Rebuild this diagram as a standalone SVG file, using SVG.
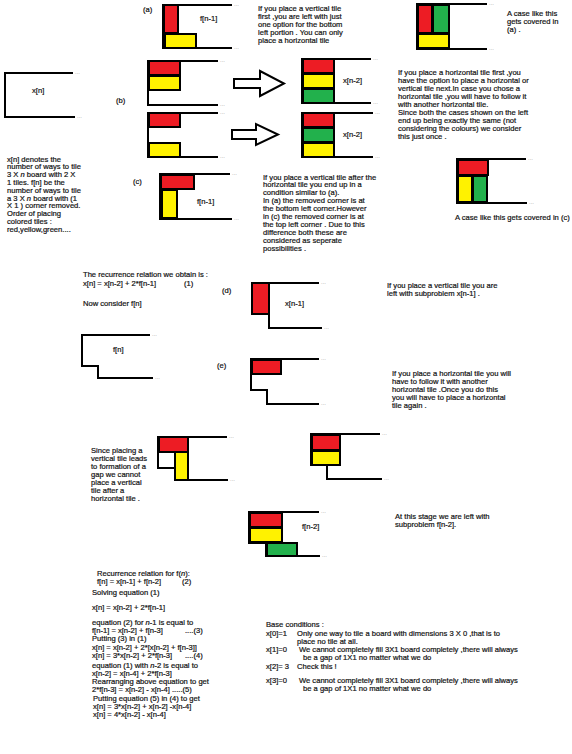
<svg xmlns="http://www.w3.org/2000/svg" width="572" height="754" viewBox="0 0 572 754">
<style>
.t{font-family:"Liberation Sans",Arial,sans-serif;font-size:7.6px;fill:#111;stroke:#111;stroke-width:0.2}
.i{font-style:italic}
.dt{font-family:"Liberation Sans",Arial,sans-serif;font-size:6px;fill:#9a9a9a}
.b{fill:none;stroke:#000;stroke-width:2}
.r{fill:#ed1c24;stroke:#000;stroke-width:2}
.y{fill:#fff200;stroke:#000;stroke-width:2}
.g{fill:#22b14c;stroke:#000;stroke-width:2}
.ar{fill:#fff;stroke:#000;stroke-width:2;stroke-linejoin:miter}
</style>
<rect width="572" height="754" fill="#fff"/>

<!-- x[n] board -->
<g id="board-xn">
<path class="b" d="M73,73 H5 V117 H75"/>
<text class="dt" x="75" y="74">...</text><text class="dt" x="77" y="118">...</text>
<text class="t" x="32" y="92.5">x[n]</text>
</g>

<!-- (a) -->
<g id="fig-a">
<text class="t" x="143" y="12">(a)</text>
<path class="b" d="M232,5 H163 V48 H232"/>
<rect class="r" x="164" y="5" width="14" height="28"/>
<rect class="y" x="165" y="34" width="31" height="14"/>
<text class="dt" x="234" y="6">...</text><text class="dt" x="234" y="49">...</text>
<text class="t" x="200" y="21">f[n-1]</text>
</g>
<g id="text-a">
<text class="t" x="258" y="10.5">If you place a vertical tile</text>
<text class="t" x="258" y="18.7">first ,you are left with just</text>
<text class="t" x="258" y="26.9">one option for the bottom</text>
<text class="t" x="258" y="35.1">left portion . You can only</text>
<text class="t" x="258" y="43.3">place a horizontal tile</text>
</g>

<!-- top right case -->
<g id="fig-case-a">
<path class="b" d="M487,4 H417 V49 H487"/>
<rect class="r" x="418" y="5" width="14" height="28"/>
<rect class="g" x="433" y="5" width="16" height="28"/>
<rect class="y" x="418" y="34" width="31" height="14"/>
<text class="dt" x="489" y="5">...</text><text class="dt" x="489" y="50">...</text>
<text class="t" x="507" y="15.5">A case like this</text>
<text class="t" x="507" y="23.5">gets covered in</text>
<text class="t" x="507" y="31.5">(a) .</text>
</g>

<g id="text-b">
<text class="t" x="398" y="74.5">If you place a horizontal tile first ,you</text>
<text class="t" x="398" y="82.6">have the option to place a horizontal or</text>
<text class="t" x="398" y="90.7">vertical tile next.In case you chose a</text>
<text class="t" x="398" y="98.8">horizontal tile ,you will have to follow it</text>
<text class="t" x="398" y="106.9">with another horizontal tile.</text>
<text class="t" x="398" y="115">Since both the cases shown on the left</text>
<text class="t" x="398" y="123.1">end up being exactly the same (not</text>
<text class="t" x="398" y="131.2">considering the colours) we consider</text>
<text class="t" x="398" y="139.3">this just once .</text>
</g>

<!-- (b) -->
<g id="fig-b1">
<text class="t" x="116" y="102.5">(b)</text>
<path class="b" d="M218,61 H148 V105 H218"/>
<rect class="r" x="149" y="61" width="31" height="14"/>
<rect class="y" x="149" y="76" width="31" height="14"/>
<text class="dt" x="220" y="62">...</text><text class="dt" x="220" y="106">...</text>
</g>
<g id="fig-b2">
<path class="b" d="M371,59 H302 V103 H371"/>
<rect class="r" x="303" y="59" width="31" height="14"/>
<rect class="y" x="303" y="74" width="31" height="14"/>
<rect class="g" x="303" y="89" width="31" height="14"/>
<text class="dt" x="373" y="60">...</text><text class="dt" x="373" y="104">...</text>
<text class="t" x="343" y="82.5">x[n-2]</text>
</g>
<g id="fig-b3">
<path class="b" d="M218,113 H148 V157 H218"/>
<rect class="r" x="149" y="113" width="31" height="14"/>
<rect class="y" x="149" y="143" width="31" height="14"/>
<text class="dt" x="220" y="114">...</text><text class="dt" x="220" y="158">...</text>
</g>
<g id="fig-b4">
<path class="b" d="M373,113 H302 V157 H373"/>
<rect class="r" x="303" y="113" width="31" height="14"/>
<rect class="g" x="303" y="128" width="31" height="14"/>
<rect class="y" x="303" y="143" width="31" height="14"/>
<text class="dt" x="375" y="114">...</text><text class="dt" x="375" y="158">...</text>
<text class="t" x="343" y="136.5">x[n-2]</text>
</g>

<g id="connectors">
<polygon class="ar" points="234,79 260,79 260,71 284,83.5 260,96 260,88 234,88"/>
<polygon class="ar" points="232,130 256,130 256,124 278,134.5 256,145 256,139 232,139"/>
</g>

<!-- (c) -->
<g id="fig-c">
<text class="t" x="133" y="184">(c)</text>
<path class="b" d="M230,174 H160 V219 H232"/>
<rect class="r" x="161" y="175" width="33" height="14"/>
<rect class="y" x="162" y="190" width="15" height="28"/>
<text class="dt" x="232" y="175">...</text><text class="dt" x="234" y="220">...</text>
<text class="t" x="197" y="203.5">f[n-1]</text>
</g>
<g id="text-c">
<text class="t" x="263" y="179.5">If you place a vertical tile after the</text>
<text class="t" x="263" y="187.4">horizontal tile you end up in a</text>
<text class="t" x="263" y="195.3">condition similar to (a).</text>
<text class="t" x="263" y="203.2">In (a) the removed corner is at</text>
<text class="t" x="263" y="211.1">the bottom left corner.However</text>
<text class="t" x="263" y="219">in (c) the removed corner is at</text>
<text class="t" x="263" y="226.9">the top left corner . Due to this</text>
<text class="t" x="263" y="234.8">difference both these are</text>
<text class="t" x="263" y="242.7">considered as seperate</text>
<text class="t" x="263" y="250.6">possibilities .</text>
</g>

<g id="text-def">
<text class="t" x="7" y="161.5">x[n] denotes the</text>
<text class="t" x="7" y="169.3">number of ways to tile</text>
<text class="t" x="7" y="177.1">3 X <tspan class="i">n</tspan> board with 2 X</text>
<text class="t" x="7" y="184.9">1 tiles. f[n] be the</text>
<text class="t" x="7" y="192.7">number of ways to tile</text>
<text class="t" x="7" y="200.5">a 3 X <tspan class="i">n</tspan> board with (1</text>
<text class="t" x="7" y="208.3">X 1 ) corner removed.</text>
<text class="t" x="7" y="216.1">Order of placing</text>
<text class="t" x="7" y="223.9">colored tiles :</text>
<text class="t" x="7" y="231.7">red,yellow,green....</text>
</g>

<g id="fig-case-c">
<path class="b" d="M526,159 H457 V203 H527"/>
<rect class="r" x="458" y="160" width="30" height="15"/>
<rect class="y" x="458" y="176" width="14" height="26"/>
<rect class="g" x="473" y="176" width="14" height="26"/>
<text class="dt" x="528" y="160">...</text><text class="dt" x="529" y="204">...</text>
<text class="t" x="455" y="219.5">A case like this gets covered in (c)</text>
</g>

<g id="text-rec1">
<text class="t" x="83" y="276.5">The recurrence relation we obtain is :</text>
<text class="t" x="83" y="285.5">x[n] = x[n-2] + 2*f[n-1]</text>
<text class="t" x="184" y="285.5">(1)</text>
<text class="t" x="83" y="305.5">Now consider f[n]</text>
</g>

<g id="board-fn">
<path class="b" d="M150,335 H82 V366 H98 V378 H153"/>
<text class="dt" x="152" y="336">...</text><text class="dt" x="155" y="379">...</text>
<text class="t" x="113" y="351.5">f[n]</text>
</g>

<!-- (d) -->
<g id="fig-d">
<text class="t" x="222" y="292.5">(d)</text>
<path class="b" d="M319,283 H252 V314 H269 V328 H322"/>
<rect class="r" x="252" y="283" width="17" height="31"/>
<text class="dt" x="321" y="284">...</text><text class="dt" x="324" y="329">...</text>
<text class="t" x="285" y="305.5">x[n-1]</text>
<text class="t" x="387" y="287.5">If you place a vertical tile you are</text>
<text class="t" x="387" y="295.5">left with subproblem x[n-1] .</text>
</g>

<!-- (e) -->
<g id="fig-e">
<text class="t" x="217" y="367.5">(e)</text>
<path class="b" d="M319,359 H251 V390 H267 V404 H319"/>
<rect class="r" x="252" y="360" width="29" height="14"/>
<text class="dt" x="321" y="360">...</text><text class="dt" x="321" y="405">...</text>
<text class="t" x="392" y="375.5">If you place a horizontal tile you will</text>
<text class="t" x="392" y="383.5">have to follow it with another</text>
<text class="t" x="392" y="391.5">horizontal tile .Once you do this</text>
<text class="t" x="392" y="399.5">you will have to place a horizontal</text>
<text class="t" x="392" y="407.5">tile again .</text>
</g>

<g id="text-gap">
<text class="t" x="91" y="452.5">Since placing a</text>
<text class="t" x="91" y="460.5">vertical tile leads</text>
<text class="t" x="91" y="468.5">to formation of a</text>
<text class="t" x="91" y="476.5">gap we cannot</text>
<text class="t" x="91" y="484.5">place a vertical</text>
<text class="t" x="91" y="492.5">tile after a</text>
<text class="t" x="91" y="500.5">horizontal tile .</text>
</g>

<g id="fig-e1">
<path class="b" d="M227,437 H158 V468 H175 V480 H228"/>
<rect class="r" x="159" y="437" width="29" height="15"/>
<rect class="y" x="175" y="452" width="13" height="28"/>
<text class="dt" x="229" y="438">...</text><text class="dt" x="230" y="481">...</text>
</g>
<g id="fig-e2">
<path class="b" d="M380,434 H311 V465 H327 V479 H382"/>
<rect class="r" x="312" y="435" width="28" height="15"/>
<rect class="y" x="312" y="451" width="28" height="14"/>
<text class="dt" x="382" y="435">...</text><text class="dt" x="384" y="480">...</text>
</g>
<g id="fig-e3">
<path class="b" d="M319,512 H249 V543 H266 V556 H320"/>
<rect class="r" x="250" y="513" width="32" height="14"/>
<rect class="y" x="250" y="528" width="32" height="14"/>
<rect class="g" x="267" y="543" width="30" height="13"/>
<text class="dt" x="321" y="513">...</text><text class="dt" x="322" y="557">...</text>
<text class="t" x="302" y="528.5">f[n-2]</text>
<text class="t" x="395" y="518.5">At this stage we are left with</text>
<text class="t" x="395" y="526.5">subproblem f[n-2].</text>
</g>

<g id="text-solve">
<text class="t" x="97" y="575.5">Recurrence relation for f(<tspan class="i">n</tspan>):</text>
<text class="t" x="97" y="583.5">f[n] = x[n-1] + f[n-2]</text>
<text class="t" x="182" y="583.5">(2)</text>
<text class="t" x="92" y="594.5">Solving equation (1)</text>
<text class="t" x="92" y="609.5">x[n] = x[n-2] + 2*f[n-1]</text>
<text class="t" x="92" y="625">equation (2) for <tspan class="i">n</tspan>-1 is equal to</text>
<text class="t" x="92" y="633.2">f[n-1] = x[n-2] + f[n-3]</text>
<text class="t" x="185" y="633.2">....(3)</text>
<text class="t" x="92" y="641.4">Putting (3) in (1)</text>
<text class="t" x="92" y="649.6">x[n] = x[n-2] + 2*[x[n-2] + f[n-3]]</text>
<text class="t" x="92" y="657.8">x[n] = 3*x[n-2] + 2*f[n-3]</text>
<text class="t" x="185" y="657.8">....(4)</text>
<text class="t" x="92" y="667.5">equation (1) with <tspan class="i">n</tspan>-2 is equal to</text>
<text class="t" x="92" y="675.7">x[n-2] = x[n-4] + 2*f[n-3]</text>
<text class="t" x="92" y="683.9">Rearranging above equation to get</text>
<text class="t" x="92" y="692.1">2*f[n-3] = x[n-2] - x[n-4] .....(5)</text>
<text class="t" x="93" y="700.8">Putting equation (5) in (4) to get</text>
<text class="t" x="93" y="709">x[n] = 3*x[n-2] + x[n-2] -x[n-4]</text>
<text class="t" x="93" y="717.2">x[n] = 4*x[n-2] - x[n-4]</text>
</g>

<g id="text-base">
<text class="t" x="266" y="627">Base conditions :</text>
<text class="t" x="266" y="635.5">x[0]=1</text>
<text class="t" x="297" y="635.5">Only one way to tile a board with dimensions 3 X 0 ,that is to</text>
<text class="t" x="297" y="643.8">place no tile at all.</text>
<text class="t" x="266" y="652">x[1]=0</text>
<text class="t" x="299" y="652">We cannot completely fill 3X1 board completely ,there will always</text>
<text class="t" x="303" y="660.3">be a gap of 1X1 no matter what we do</text>
<text class="t" x="266" y="668.6">x[2]= 3</text>
<text class="t" x="297" y="668.6">Check this !</text>
<text class="t" x="266" y="682.5">x[3]=0</text>
<text class="t" x="299" y="682.5">We cannot completely fill 3X1 board completely ,there will always</text>
<text class="t" x="303" y="690.8">be a gap of 1X1 no matter what we do</text>
</g>
</svg>
